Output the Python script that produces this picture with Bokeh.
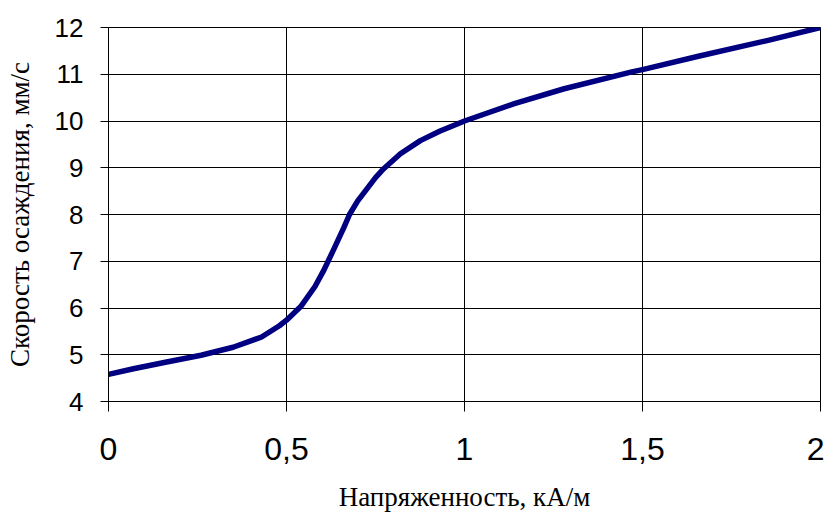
from bokeh.plotting import figure
from bokeh.models import FixedTicker, Range1d
from bokeh.embed import file_html
from bokeh.resources import INLINE

# Data
field_strength = [0.0, 0.07, 0.16, 0.26, 0.35, 0.43, 0.48, 0.50, 0.54, 0.58, 0.605,
                  0.633, 0.661, 0.677, 0.70, 0.727, 0.75, 0.773, 0.82, 0.876, 0.93, 1.0,
                  1.14, 1.28, 1.47, 1.5, 1.66, 1.85, 2.0]
settling_speed = [4.58, 4.70, 4.84, 4.99, 5.16, 5.38, 5.62, 5.74, 6.03, 6.46, 6.81,
                  7.26, 7.72, 8.0, 8.29, 8.56, 8.79, 8.98, 9.30, 9.58, 9.78, 10.0,
                  10.37, 10.69, 11.05, 11.1, 11.39, 11.72, 12.0]

x_ticks = [0, 0.5, 1, 1.5, 2]
x_tick_labels = ["0", "0,5", "1", "1,5", "2"]
y_ticks = [4, 5, 6, 7, 8, 9, 10, 11, 12]
x_title = "Напряженность, кА/м"
y_title = "Скорость осаждения, мм/с"

p = figure(frame_width=712, frame_height=374, output_backend="svg", toolbar_location=None,
           x_range=Range1d(0, 2), y_range=Range1d(4, 12))
p.min_border_left = 108
p.min_border_right = 4
p.min_border_top = 27
p.min_border_bottom = 113

p.line(field_strength, settling_speed, line_color="#000080", line_width=5.5,
       line_join="round", line_cap="round")

p.xaxis.ticker = FixedTicker(ticks=x_ticks)
p.xaxis.major_label_overrides = {t: l for t, l in zip(x_ticks, x_tick_labels)}
p.yaxis.ticker = FixedTicker(ticks=y_ticks)

for ax in (p.xaxis[0], p.yaxis[0]):
    ax.minor_tick_line_color = None
    ax.major_tick_in = 0
    ax.axis_line_color = "black"
    ax.major_tick_line_color = "black"
    ax.major_label_text_font = "Liberation Sans"
    ax.major_label_text_color = "black"
    ax.axis_label_text_font = "Liberation Serif"
    ax.axis_label_text_font_size = "27px"
    ax.axis_label_text_font_style = "normal"
    ax.axis_label_text_color = "black"

p.xaxis.major_label_text_font_size = "32px"
p.yaxis.major_label_text_font_size = "26px"
p.xaxis.major_tick_out = 10
p.yaxis.major_tick_out = 8
p.xaxis.major_label_standoff = 26
p.yaxis.major_label_standoff = 17
p.xaxis.axis_label = x_title
p.yaxis.axis_label = y_title
p.xaxis.axis_label_standoff = 19
p.yaxis.axis_label_standoff = 17

p.xgrid.ticker = FixedTicker(ticks=x_ticks)
p.ygrid.ticker = FixedTicker(ticks=y_ticks)
p.grid.grid_line_color = "black"
p.grid.grid_line_width = 1
p.outline_line_color = "black"
p.background_fill_color = "white"
p.border_fill_color = "white"

open("out.html", "w").write(file_html(p, INLINE))
